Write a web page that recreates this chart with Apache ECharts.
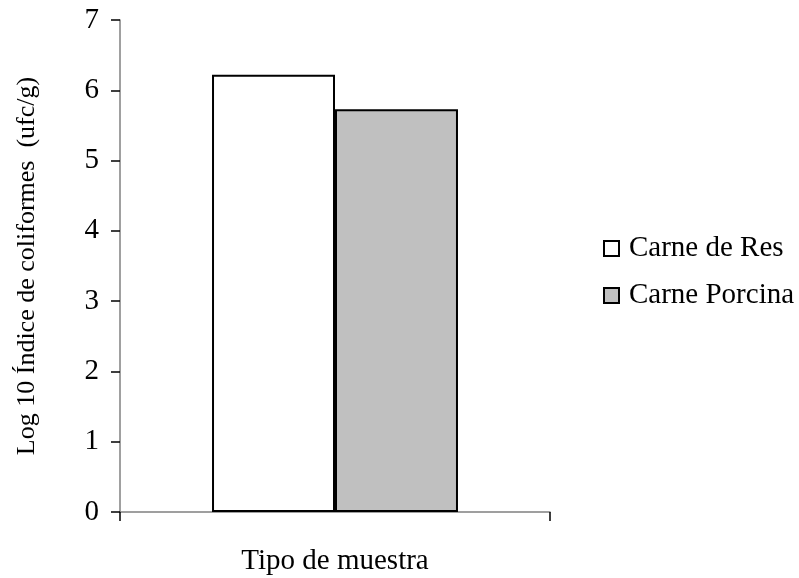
<!DOCTYPE html>
<html><head><meta charset="utf-8">
<script src="https://cdn.jsdelivr.net/npm/echarts@6/dist/echarts.min.js"></script>
<style>html,body{margin:0;padding:0;background:#fff}#c{width:799px;height:578px}</style>
</head><body><div id="c"></div>
<script>
const categories = ['Tipo de muestra'];
const seriesNames = ['Carne de Res', 'Carne Porcina'];
const resValues = [6.22];
const porcinaValues = [5.73];
const yTicks = [0, 1, 2, 3, 4, 5, 6, 7];

const font = 'Liberation Serif, Times New Roman, serif';
const chart = echarts.init(document.getElementById('c'));
chart.setOption({
  animation: false,
  backgroundColor: '#fff',
  grid: { left: 120, right: 249, top: 20, bottom: 66, outerBoundsMode: 'none', containLabel: false },
  legend: {
    orient: 'vertical', left: 598, top: 229,
    itemWidth: 15, itemHeight: 15, itemGap: 18,
    icon: 'rect',
    textStyle: { fontFamily: font, fontSize: 29, color: '#000', padding: [0, 0, 0, 5] },
    data: seriesNames
  },
  xAxis: {
    type: 'category', data: categories,
    axisLine: { lineStyle: { color: '#808080', width: 1.5 } },
    axisTick: { show: true, length: 9, lineStyle: { color: '#000', width: 1.5 } },
    axisLabel: { show: false },
    name: categories[0], nameLocation: 'middle', nameGap: 35,
    nameTextStyle: { fontFamily: font, fontSize: 29, color: '#000' }
  },
  yAxis: {
    type: 'value', min: yTicks[0], max: yTicks[yTicks.length - 1], interval: 1,
    splitLine: { show: false },
    axisLine: { show: true, lineStyle: { color: '#808080', width: 1.5 } },
    axisTick: { show: true, length: 9, lineStyle: { color: '#000', width: 1.5 } },
    axisLabel: { fontFamily: font, fontSize: 29, color: '#000', margin: 21 },
    name: 'Log 10 Índice de coliformes  (ufc/g)', nameLocation: 'middle', nameGap: 80,
    nameTextStyle: { fontFamily: font, fontSize: 26, color: '#000' }
  },
  series: [
    { name: seriesNames[0], type: 'bar', data: resValues, barGap: '0%', barCategoryGap: '42.8%',
      itemStyle: { color: '#fff', borderColor: '#000', borderWidth: 2 } },
    { name: seriesNames[1], type: 'bar', data: porcinaValues,
      itemStyle: { color: '#c0c0c0', borderColor: '#000', borderWidth: 2 } }
  ]
});
</script></body></html>
